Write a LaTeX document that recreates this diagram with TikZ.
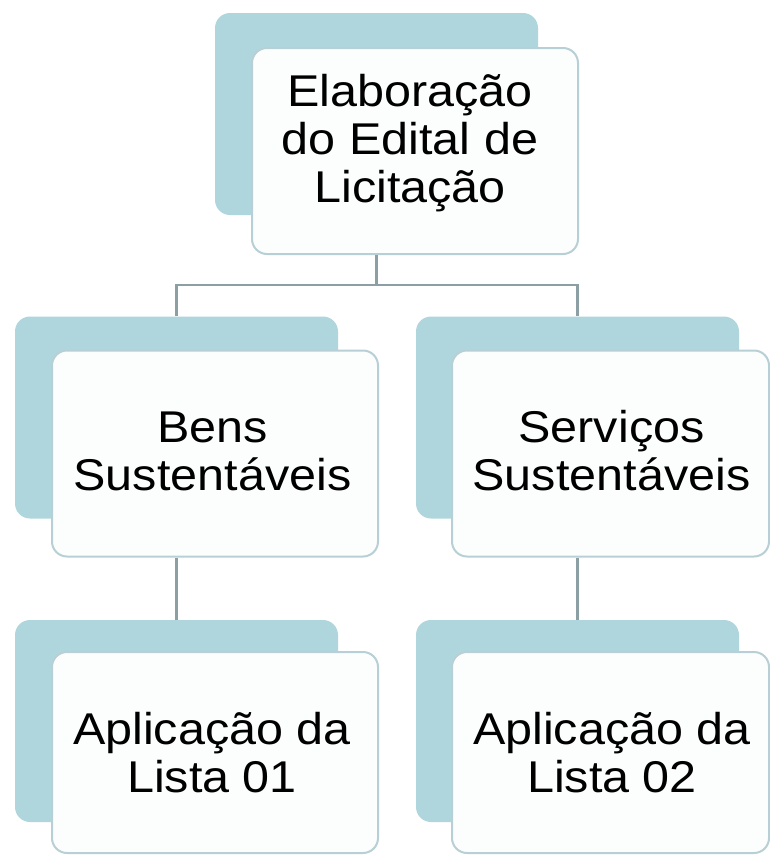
\documentclass[tikz,border=0pt]{standalone}
\usepackage{fontspec}
\setmainfont{Liberation Sans}[FakeStretch=1.09]
\definecolor{backteal}{RGB}{176,214,221}
\definecolor{frontedge}{RGB}{184,208,213}
\definecolor{frontfill}{RGB}{252,254,254}
\definecolor{connline}{RGB}{140,160,164}
\begin{document}
\begin{tikzpicture}[x=1pt,y=-1pt,
  backbox/.style={fill=backteal, draw=none, rounded corners=15pt, inner sep=0pt,
    minimum width=323pt, minimum height=202pt},
  frontbox/.style={fill=frontfill, draw=frontedge, line width=2pt, rounded corners=15pt,
    inner sep=0pt, minimum width=326pt, minimum height=206pt},
  lbl/.style={align=center, inner sep=0pt, text=black,
    font=\fontsize{44.5pt}{48pt}\selectfont},
  conn/.style={draw=connline, line width=2.5pt}]
\useasboundingbox (0,0) rectangle (770,855);
\fill[white] (0,0) rectangle (770,855);

% top
\node[backbox] (tb) at (376.5,114) {};
\node[frontbox] (tf) at (415,151) {};
\node[lbl] (tt) at (410,143) {Elaboração\\do Edital de\\Licitação};

% middle left
\node[backbox] (lb) at (176.5,417.5) {};
\node[frontbox] (lf) at (215,453.5) {};
\node[lbl] (lt) at (212.5,451) {Bens\\Sustentáveis};

% middle right
\node[backbox] (rb) at (577.5,417.5) {};
\node[frontbox, minimum width=317pt] (rf) at (610.5,453.5) {};
\node[lbl] (rt) at (611.5,451) {Serviços\\Sustentáveis};

% bottom left
\node[backbox] (llb) at (176.5,721) {};
\node[frontbox, minimum height=201pt] (llf) at (215,752.5) {};
\node[lbl] (llt) at (212,753) {Aplicação da\\Lista 01};

% bottom right
\node[backbox] (rrb) at (577.5,721) {};
\node[frontbox, minimum width=317pt, minimum height=201pt] (rrf) at (610.5,752.5) {};
\node[lbl] (rrt) at (612,753) {Aplicação da\\Lista 02};

% connectors
\coordinate (hub) at (376.5,285);
\draw[conn] (tf.south -| tb.center) -- (hub);
\draw[conn] (hub) -| (lb.north);
\draw[conn] (hub) -| (rb.north);
\draw[conn] (lf.south -| lb.center) -- (llb.north);
\draw[conn] (rf.south -| rb.center) -- (rrb.north);
\end{tikzpicture}
\end{document}
